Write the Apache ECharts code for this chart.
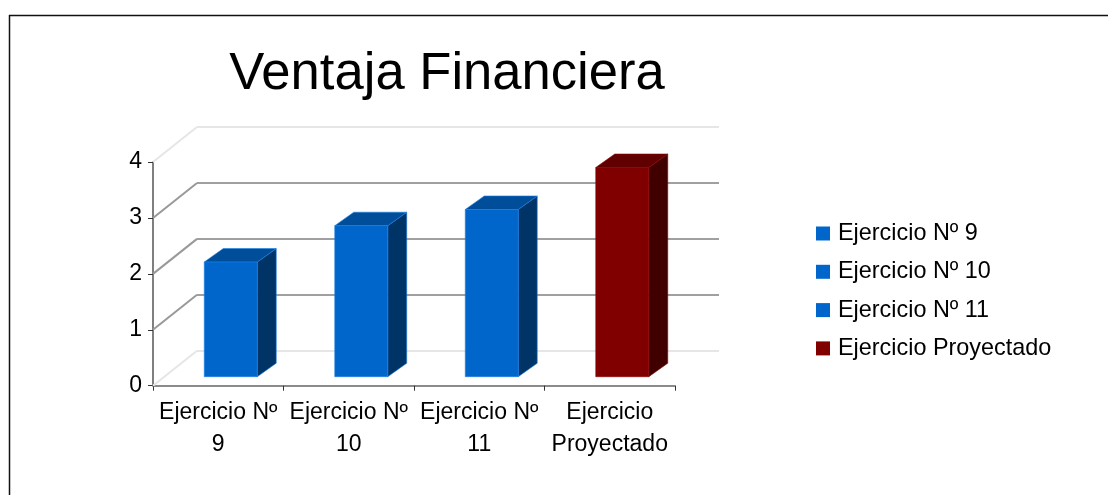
<!DOCTYPE html>
<html>
<head>
<meta charset="utf-8">
<style>
html,body{margin:0;padding:0;background:#fff;}
#main{width:1108px;height:495px;}
</style>
<script src="https://cdn.jsdelivr.net/npm/echarts@6/dist/echarts.min.js"></script>
</head>
<body>
<div id="main"></div>
<script>
var titleText = 'Ventaja Financiera';
var categories = ['Ejercicio Nº\n9', 'Ejercicio Nº\n10', 'Ejercicio Nº\n11', 'Ejercicio\nProyectado'];
var seriesNames = ['Ejercicio Nº 9', 'Ejercicio Nº 10', 'Ejercicio Nº 11', 'Ejercicio Proyectado'];
var seriesValues = [2.05, 2.70, 2.99, 3.74];
var yTicks = [0, 1, 2, 3, 4];

var barColors = [
	{front: '#0066cc', top: '#004d99', side: '#003366', edge: '#1a80e6'},
	{front: '#0066cc', top: '#004d99', side: '#003366', edge: '#1a80e6'},
	{front: '#0066cc', top: '#004d99', side: '#003366', edge: '#1a80e6'},
	{front: '#800000', top: '#600000', side: '#400000', edge: '#8c0000'}
];

// the fake 3d depth, in pixels
var wallDx = 44, wallDy = -35;
var barDx = 12.5, barDy = -9;
var sideDx = 19, sideDy = -13.5;

function lineColor(v) {
	return (v == 0 || v == 4) ? '#e6e6e6' : '#999999';
}

// floor and side wall lines, from the y axis back to the wall
function renderDepth(params, api) {
	var v = api.value(0);
	var y = api.coord([0, v])[1];
	var x = params.coordSys.x;
	return {
		type: 'line',
		shape: {x1: x, y1: y, x2: x + wallDx, y2: y + wallDy},
		style: {stroke: lineColor(v), lineWidth: 2}
	};
}

function renderBar(params, api) {
	var c = barColors[api.value(0)];
	var top = api.coord([api.value(0), api.value(1)]);
	var bottom = api.coord([api.value(0), 0]);
	var w = api.size([1, 0])[0] * 0.406;
	var l = top[0] + barDx - w / 2;
	var r = l + w;
	var t = top[1] + barDy;
	var b = bottom[1] + barDy;
	return {
		type: 'group',
		children: [
			{type: 'polygon', shape: {points: [[r, t], [r + sideDx, t + sideDy], [r + sideDx, b + sideDy], [r, b]]},
				style: {fill: c.side, stroke: c.edge, lineWidth: 0.6}},
			{type: 'polygon', shape: {points: [[l, t], [l + sideDx, t + sideDy], [r + sideDx, t + sideDy], [r, t]]},
				style: {fill: c.top, stroke: c.edge, lineWidth: 0.6}},
			{type: 'rect', shape: {x: l, y: t, width: w, height: b - t},
				style: {fill: c.front, stroke: c.edge, lineWidth: 0.6}}
		]
	};
}

var series = [{
	type: 'custom',
	name: 'depth',
	xAxisIndex: 0,
	yAxisIndex: 0,
	silent: true,
	z: 1,
	clip: false,
	renderItem: renderDepth,
	encode: {y: 0},
	data: yTicks
}];
for (var i = 0; i < seriesValues.length; i++) {
	series.push({
		type: 'custom',
		name: seriesNames[i],
		xAxisIndex: 0,
		yAxisIndex: 0,
		z: 3,
		clip: false,
		itemStyle: {color: barColors[i].front},
		renderItem: renderBar,
		encode: {x: 0, y: 1},
		data: [[i, seriesValues[i]]]
	});
}

var chart = echarts.init(document.getElementById('main'));
var option = {
	backgroundColor: '#ffffff',
	animation: false,
	textStyle: {fontFamily: 'Liberation Sans'},
	title: {
		text: titleText,
		left: 442,
		top: 43,
		textAlign: 'center',
		textStyle: {fontFamily: 'Liberation Sans', fontSize: 52.6, fontWeight: 'normal', color: '#000'}
	},
	legend: {
		orient: 'vertical',
		left: 811,
		top: 217,
		itemWidth: 14,
		itemHeight: 14,
		itemGap: 15.3,
		icon: 'rect',
		data: seriesNames,
		selectedMode: false,
		textStyle: {fontFamily: 'Liberation Sans', fontSize: 23.4, color: '#000', padding: [0, 0, 0, 3]}
	},
	grid: [
		{left: 153, top: 162, width: 522, height: 223.7},
		{left: 197, top: 127, width: 522, height: 223.7}
	],
	xAxis: [{
		type: 'category',
		gridIndex: 0,
		data: categories,
		axisLine: {lineStyle: {color: '#666666', width: 1.5}},
		axisTick: {show: true, length: 5, alignWithLabel: false, lineStyle: {color: '#333333', width: 1}},
		axisLabel: {interval: 0, color: '#000', fontSize: 23, lineHeight: 32, margin: 11, hideOverlap: false}
	}, {
		type: 'category',
		gridIndex: 1,
		data: categories,
		axisLine: {show: false},
		axisTick: {show: false},
		axisLabel: {show: false}
	}],
	yAxis: [{
		type: 'value',
		gridIndex: 0,
		min: 0,
		max: 4,
		interval: 1,
		splitLine: {show: false},
		axisLine: {show: true, lineStyle: {color: '#555555', width: 1.5}},
		axisTick: {show: true, length: 5, lineStyle: {color: '#333333', width: 1}},
		axisLabel: {color: '#000', fontSize: 23, margin: 11}
	}, {
		type: 'value',
		gridIndex: 1,
		min: 0,
		max: 4,
		interval: 1,
		axisLine: {show: false},
		axisTick: {show: false},
		axisLabel: {show: false},
		splitLine: {show: true, lineStyle: {color: ['#e6e6e6', '#a0a0a0', '#a0a0a0', '#a0a0a0', '#e6e6e6'], width: 2}}
	}],
	series: series,
	graphic: [
		{type: 'line', shape: {x1: 9, y1: 15.5, x2: 1108, y2: 15.5}, style: {stroke: '#111', lineWidth: 1.5}},
		{type: 'line', shape: {x1: 9.5, y1: 15, x2: 9.5, y2: 495}, style: {stroke: '#111', lineWidth: 1.5}}
	]
};
chart.setOption(option);
window.onresize = chart.resize;
</script>
</body>
</html>
